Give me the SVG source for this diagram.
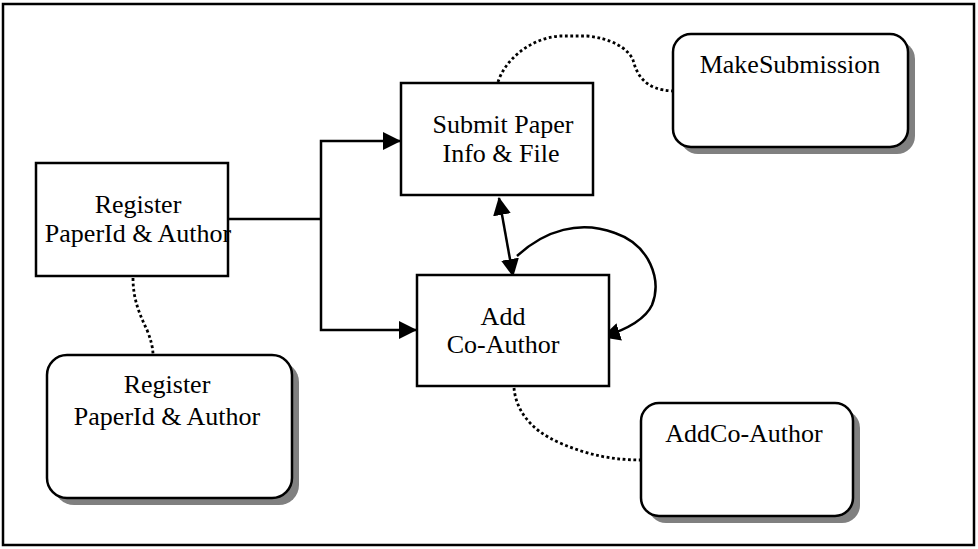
<svg xmlns="http://www.w3.org/2000/svg" width="978" height="549" viewBox="0 0 978 549">
  <style>
    .frame { fill: #fff; stroke: #000; stroke-width: 2.5; }
    .box { fill: #fff; stroke: #000; stroke-width: 2.5; }
    .shadow { fill: #808080; stroke: none; }
    .label { font-family: "Liberation Serif", "Times New Roman", serif; font-size: 26px; fill: #000; text-anchor: middle; }
    .flow { fill: none; stroke: #000; stroke-width: 2.5; }
    .link { fill: none; stroke: #000; stroke-width: 2.8; stroke-dasharray: 2.8 2.6; }
  </style>
  <defs>
    <marker id="head" viewBox="0 0 18 18" refX="17" refY="9" markerWidth="18" markerHeight="18" orient="auto-start-reverse" markerUnits="userSpaceOnUse">
      <path d="M0,0 L18,9 L0,18 z" fill="#000"/>
    </marker>
  </defs>

  <rect class="frame" x="3" y="4" width="971" height="541"/>

  <!-- dotted associations between activities and their use cases -->
  <g id="links">
    <path class="link" d="M133,278 C133,300 140,315 147,330 C151,340 153,348 153,355"/>
    <path class="link" d="M498,82 C505,60 530,38 560,36 L587,36 C610,38 628,48 633,60 C637,75 645,90 673,91"/>
    <path class="link" d="M514,388 C516,410 530,430 560,443 C590,456 615,460 641,460"/>
  </g>

  <!-- control flow -->
  <g id="connectors">
    <path class="flow" d="M228,219 H321"/>
    <path class="flow" d="M321,219 V141 H400" marker-end="url(#head)"/>
    <path class="flow" d="M321,219 V330 H416" marker-end="url(#head)"/>
    <path class="flow" d="M499,198 L513,276" marker-start="url(#head)" marker-end="url(#head)"/>
    <path class="flow" d="M517,256 C545,230 580,220 615,233 C650,245 662,280 652,305 C645,320 625,330 603,337" marker-end="url(#head)"/>
  </g>

  <g id="register-activity">
    <rect class="box" x="36" y="163" width="192" height="113"/>
    <text class="label" x="138" y="213">Register</text>
    <text class="label" x="138" y="242">PaperId &amp; Author</text>
  </g>

  <g id="submit-activity">
    <rect class="box" x="401" y="83" width="192" height="112"/>
    <text class="label" x="503" y="133">Submit Paper</text>
    <text class="label" x="501" y="162">Info &amp; File</text>
  </g>

  <g id="addcoauthor-activity">
    <rect class="box" x="417" y="275" width="192" height="111"/>
    <text class="label" x="503" y="325">Add</text>
    <text class="label" x="503" y="353">Co-Author</text>
  </g>

  <g id="register-usecase">
    <rect class="shadow" x="54" y="362" width="245" height="143" rx="20"/>
    <rect class="box" x="47" y="355" width="245" height="143" rx="20"/>
    <text class="label" x="167" y="393">Register</text>
    <text class="label" x="167" y="425">PaperId &amp; Author</text>
  </g>

  <g id="makesubmission-usecase">
    <rect class="shadow" x="680" y="41" width="235" height="113" rx="18"/>
    <rect class="box" x="673" y="34" width="235" height="113" rx="18"/>
    <text class="label" x="790" y="73">MakeSubmission</text>
  </g>

  <g id="addcoauthor-usecase">
    <rect class="shadow" x="648" y="410" width="212" height="113" rx="18"/>
    <rect class="box" x="641" y="403" width="212" height="113" rx="18"/>
    <text class="label" x="744" y="442">AddCo-Author</text>
  </g>
</svg>
